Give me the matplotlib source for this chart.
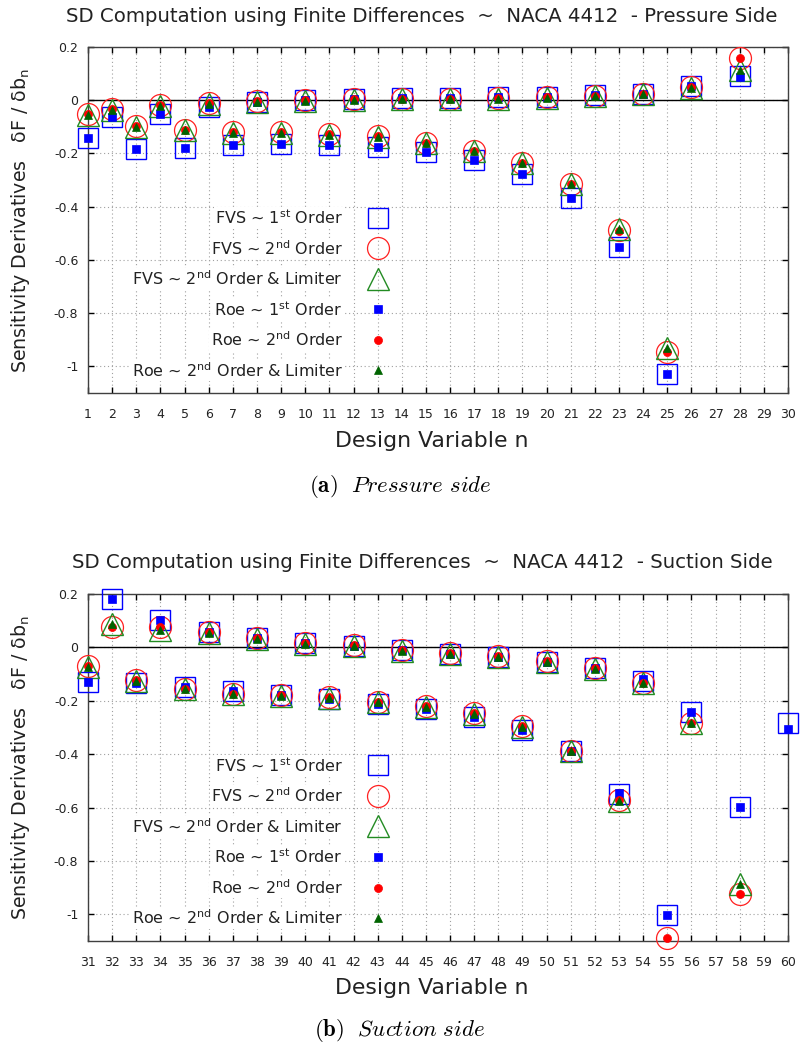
import numpy as np
import matplotlib
matplotlib.use("Agg")
import matplotlib.pyplot as plt

nan = np.nan

# Pressure side design variables 1..30
n_ps = [1, 2, 3, 4, 5, 6, 7, 8, 9, 10, 11, 12, 13, 14, 15, 16, 17, 18, 19, 20,
        21, 22, 23, 24, 25, 26, 28]
fvs1_ps = [-0.143, -0.062, -0.182, -0.053, -0.178, -0.026, -0.170, -0.007, -0.166, 0.000,
           -0.170, 0.005, -0.174, 0.007, -0.196, 0.007, -0.226, 0.012, -0.276, 0.014,
           -0.366, 0.019, -0.550, 0.025, -1.027, 0.054, 0.090]
fvs2_ps = [-0.053, -0.032, -0.096, -0.019, -0.110, -0.011, -0.120, -0.004, -0.120, 0.000,
           -0.128, 0.003, -0.136, 0.005, -0.160, 0.005, -0.190, 0.007, -0.234, 0.011,
           -0.315, 0.017, -0.487, 0.025, -0.947, 0.048, 0.157]
fvslim_ps = [-0.057, -0.035, -0.100, -0.022, -0.112, -0.013, -0.122, -0.006, -0.122, -0.002,
             -0.130, 0.001, -0.140, 0.003, -0.162, 0.003, -0.192, 0.005, -0.236, 0.009,
             -0.316, 0.015, -0.483, 0.022, -0.930, 0.045, 0.113]
roe1_ps = [-0.143, -0.062, -0.182, -0.053, -0.178, -0.026, -0.170, -0.007, -0.166, 0.000,
           -0.170, 0.005, -0.174, 0.007, -0.196, 0.007, -0.226, 0.012, -0.276, 0.014,
           -0.366, 0.019, -0.550, 0.025, -1.027, 0.054, 0.087]
roe2_ps = [-0.053, -0.032, -0.096, -0.019, -0.110, -0.011, -0.120, -0.004, -0.120, 0.000,
           -0.128, 0.003, -0.136, 0.005, -0.160, 0.005, -0.190, 0.007, -0.234, 0.011,
           -0.315, 0.017, -0.490, 0.025, -0.947, 0.048, 0.157]
roelim_ps = [-0.057, -0.035, -0.100, -0.022, -0.112, -0.013, -0.122, -0.006, -0.122, -0.002,
             -0.130, 0.001, -0.140, 0.003, -0.162, 0.003, -0.192, 0.005, -0.236, 0.009,
             -0.316, 0.015, -0.483, 0.022, -0.930, 0.045, 0.113]

# Suction side design variables 31..60
n_ss = [31, 32, 33, 34, 35, 36, 37, 38, 39, 40, 41, 42, 43, 44, 45, 46, 47, 48, 49, 50,
        51, 52, 53, 54, 55, 56, 58, 60]
fvs1_ss = [-0.128, 0.180, -0.133, 0.103, -0.149, 0.057, -0.164, 0.036, -0.180, 0.018,
           -0.195, 0.004, -0.211, -0.009, -0.232, -0.023, -0.259, -0.036, -0.308, -0.053,
           -0.389, -0.076, -0.551, -0.126, -1.004, -0.241, -0.597, -0.282]
fvs2_ss = [-0.068, 0.078, -0.123, 0.075, -0.155, 0.056, -0.173, 0.035, -0.180, 0.016,
           -0.186, 0.008, -0.203, -0.010, -0.219, -0.021, -0.247, -0.034, -0.296, -0.052,
           -0.388, -0.078, -0.573, -0.133, -1.090, -0.282, -0.923, nan]
fvslim_ss = [-0.072, 0.086, -0.125, 0.067, -0.157, 0.054, -0.175, 0.033, -0.183, 0.014,
             -0.190, 0.006, -0.206, -0.012, -0.222, -0.023, -0.250, -0.036, -0.299, -0.054,
             -0.390, -0.080, -0.575, -0.135, nan, -0.282, -0.886, nan]
roe1_ss = [-0.128, 0.180, -0.133, 0.103, -0.149, 0.057, -0.164, 0.036, -0.180, 0.018,
           -0.195, 0.004, -0.211, -0.009, -0.232, -0.023, -0.259, -0.036, -0.308, -0.053,
           -0.389, -0.076, -0.547, -0.118, -1.004, -0.241, -0.597, -0.305]
roe2_ss = [-0.068, 0.078, -0.123, 0.075, -0.155, 0.056, -0.173, 0.035, -0.180, 0.016,
           -0.186, 0.008, -0.203, -0.010, -0.219, -0.021, -0.247, -0.034, -0.296, -0.052,
           -0.388, -0.078, -0.573, -0.133, -1.090, -0.282, -0.923, nan]
roelim_ss = [-0.072, 0.086, -0.125, 0.067, -0.157, 0.054, -0.175, 0.033, -0.183, 0.014,
             -0.190, 0.006, -0.206, -0.012, -0.222, -0.023, -0.250, -0.036, -0.299, -0.054,
             -0.390, -0.080, -0.575, -0.135, nan, -0.282, -0.886, nan]

yticks = [0.2, 0, -0.2, -0.4, -0.6, -0.8, -1]
ytick_labels = ["0.2", "0", "-0.2", "-0.4", "-0.6", "-0.8", "-1"]

labels = ["FVS ~ 1$^{\\rm st}$ Order",
          "FVS ~ 2$^{\\rm nd}$ Order",
          "FVS ~ 2$^{\\rm nd}$ Order & Limiter",
          "Roe ~ 1$^{\\rm st}$ Order",
          "Roe ~ 2$^{\\rm nd}$ Order",
          "Roe ~ 2$^{\\rm nd}$ Order & Limiter"]

BLUE = "#0000ff"
RED = "#ff2020"
GREEN = "#228b22"
DKGREEN = "#006400"

# marker styles in drawing order
styles = [
    dict(marker="s", ms=14.4, mfc="none", mec=BLUE, mew=1.0),
    dict(marker="o", ms=15.8, mfc="none", mec=RED, mew=0.9),
    dict(marker="^", ms=15.8, mfc="none", mec=GREEN, mew=1.0),
    dict(marker="s", ms=5.8, mfc=BLUE, mec=BLUE, mew=0.5),
    dict(marker="o", ms=5.8, mfc="red", mec="red", mew=0.5),
    dict(marker="^", ms=6.0, mfc=DKGREEN, mec=DKGREEN, mew=0.5),
]

plt.rcParams["font.family"] = ["DejaVu Sans"]

fig = plt.figure(figsize=(8.03, 10.46), dpi=100)
W, H = 803.0, 1046.0


def panel(rect, n, series, xlim, title, title_y, xlab_y, ylab_y, caption, cap_y):
    ax = fig.add_axes(rect)
    for vals, st in zip(series, styles):
        ax.plot(n, vals, linestyle="none", clip_on=False, zorder=5, **st)
    ax.set_xlim(*xlim)
    ax.set_ylim(-1.1, 0.2)
    ax.set_xticks(np.arange(xlim[0], xlim[1] + 1))
    ax.set_yticks(yticks)
    ax.set_yticklabels(ytick_labels)
    ax.axhline(0, color="black", lw=1.0, zorder=2)
    ax.grid(True, linestyle=(0, (1, 2.5)), color="#a0a0a0", lw=0.8)
    ax.tick_params(direction="in", top=True, right=True, length=4, width=1.0,
                   color="black", labelsize=9, labelcolor="#222222")
    ax.tick_params(axis="x", pad=11)
    ax.tick_params(axis="y", pad=7)
    for sp in ax.spines.values():
        sp.set_color("#404040")
        sp.set_linewidth(1.0)

    # key: labels right aligned, symbols to the right
    rows = np.linspace(0.506, 0.066, 6)
    for lab, st, yr in zip(labels, styles, rows):
        ax.text(0.364, yr, lab, transform=ax.transAxes, ha="right", va="center",
                fontsize=11.5, color="#222222", zorder=6,
                bbox=dict(fc="white", ec="none", pad=1))
        ax.plot([0.414], [yr], transform=ax.transAxes, linestyle="none",
                clip_on=False, zorder=6, **st)

    fig.text(422 / W, 1 - title_y / H, title, ha="center", va="center",
             fontsize=14.2, color="#222222")
    fig.text(432 / W, 1 - xlab_y / H, "Design Variable n", ha="center", va="center",
             fontsize=15.8, color="#222222")
    fig.text(21 / W, 1 - ylab_y / H, "Sensitivity Derivatives   \u03b4F / \u03b4b$_{\\rm n}$",
             ha="center", va="center", rotation=90, fontsize=13.7, color="#222222")
    fig.text(400 / W, 1 - cap_y / H, caption, ha="center", va="center",
             fontsize=16.5, math_fontfamily="cm")
    return ax


panel([88 / W, 1 - 393 / H, 700 / W, 346 / H], n_ps,
      [fvs1_ps, fvs2_ps, fvslim_ps, roe1_ps, roe2_ps, roelim_ps], (1, 30),
      "SD Computation using Finite Differences  ~  NACA 4412  - Pressure Side",
      17, 441, 220, r"$\mathbf{(a)}\ \ \mathit{Pressure\ side}$", 486)

panel([88 / W, 1 - 941 / H, 700 / W, 347 / H], n_ss,
      [fvs1_ss, fvs2_ss, fvslim_ss, roe1_ss, roe2_ss, roelim_ss], (31, 60),
      "SD Computation using Finite Differences  ~  NACA 4412  - Suction Side",
      563, 988, 767, r"$\mathbf{(b)}\ \ \mathit{Suction\ side}$", 1031)

fig.savefig("out.png", dpi=100)
